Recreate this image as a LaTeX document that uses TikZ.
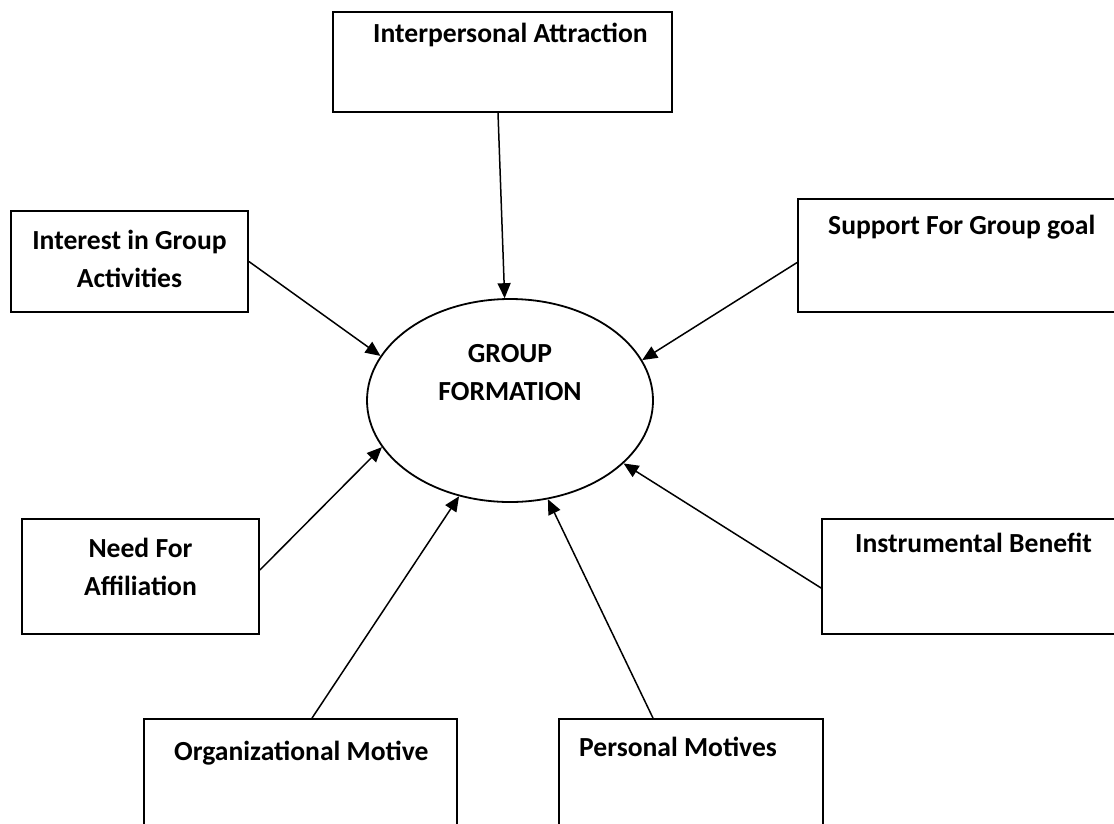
\documentclass[tikz,border=0pt]{standalone}
\usepackage{fontspec}
\setmainfont{Carlito}
\usetikzlibrary{shapes.geometric,arrows.meta}

\begin{document}
\begin{tikzpicture}[x=1pt,y=-1pt,
  box/.style={draw, rectangle, line width=1.8pt, inner sep=0pt},
  txt/.style={font=\fontsize{27.6}{38}\selectfont\bfseries, align=center, inner sep=0pt},
  arr/.style={draw, line width=1.5pt, -{Triangle[length=15pt,width=13pt]}}]
\clip (0,0) rectangle (1114,823);
\node[draw, ellipse, line width=1.8pt, minimum width=286pt, minimum height=203pt] (gf) at (510,400.5) {};
\node[txt] (gft) at (510,373) {GROUP\\FORMATION};

\node[box, minimum width=339pt, minimum height=100pt] (ia) at (502.5,62) {};
\node[box, minimum width=237pt, minimum height=101pt] (iga) at (129.5,261.5) {};
\node[box, minimum width=342pt, minimum height=113pt] (sgg) at (969,255.5) {};
\node[box, minimum width=237pt, minimum height=115pt] (nfa) at (140.5,576.5) {};
\node[box, minimum width=318pt, minimum height=115pt] (ib) at (981,576.5) {};
\node[box, minimum width=313pt, minimum height=131pt] (om) at (300.5,784.5) {};
\node[box, minimum width=264pt, minimum height=131pt] (pm) at (691,784.5) {};

\node[txt, anchor=west] (iat) at (373,35) {Interpersonal Attraction};
\node[txt] (igat) at (129.5,258.5) {Interest in Group\\Activities};
\node[txt, anchor=west] (sggt) at (828,227) {Support For Group goal};
\node[txt] (nfat) at (140.5,566.5) {Need For\\Affiliation};
\node[txt, anchor=west] (ibt) at (855,543) {Instrumental Benefit};
\node[txt, anchor=west] (omt) at (174,753) {Organizational Motive};
\node[txt, anchor=west] (pmt) at (579,747) {Personal Motives};

\path[arr] ([xshift=-4.5pt]ia.south) -- (gf.93.9);
\path[arr] (iga.east) -- (gf.161.6);
\path[arr] ([yshift=-7pt]sgg.west) -- (gf.17.7);
\path[arr] ([yshift=6.5pt]nfa.east) -- (gf.200.2);
\path[arr] ([yshift=-11.5pt]ib.west) -- (gf.331.7);
\path[arr] ([xshift=11.5pt]om.north) -- (gf.242);
\path[arr] ([xshift=-38pt]pm.north) -- (gf.291);
\end{tikzpicture}
\end{document}
